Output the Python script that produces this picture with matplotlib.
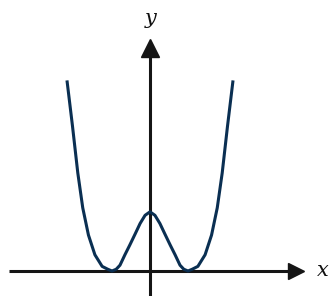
import matplotlib
matplotlib.use("Agg")
import matplotlib.pyplot as plt

# points (right half, then left half)
x_right = [0.0, 0.13, 0.26, 0.39, 0.53, 0.66, 0.79, 0.89, 1.0, 1.11, 1.26, 1.45, 1.62, 1.77, 1.90, 2.04, 2.18]
y_right = [1.02, 0.96, 0.82, 0.64, 0.45, 0.28, 0.10, 0.03, 0.0, 0.03, 0.08, 0.28, 0.62, 1.09, 1.69, 2.50, 3.26]
x_left = [-2.18, -2.04, -1.90, -1.77, -1.62, -1.45, -1.26, -1.11, -1.0, -0.89, -0.79, -0.66, -0.53, -0.39, -0.26, -0.13, 0.0]
y_left = [3.26, 2.50, 1.69, 1.09, 0.62, 0.28, 0.08, 0.03, 0.0, 0.03, 0.10, 0.28, 0.45, 0.64, 0.82, 0.96, 1.02]

x_axis_label = "x"
y_axis_label = "y"

fig = plt.figure(figsize=(3.36, 2.96), dpi=100)
ax = fig.add_axes([0, 0, 1, 1])
ax.set_xlim(-150 / 38, 186 / 38)
ax.set_ylim(-25 / 58, 271 / 58)
ax.axis("off")

axis_col = "#151515"
# axes with arrow heads
ax.plot([-3.70, 3.72], [0, 0], color=axis_col, lw=2.2, solid_capstyle="butt", zorder=1)
ax.plot([3.83], [0], marker=">", ms=11, color=axis_col, mec=axis_col, zorder=1)
ax.plot([0, 0], [-0.45, 3.72], color=axis_col, lw=2.2, solid_capstyle="butt", zorder=1)
ax.plot([0], [3.84], marker="^", ms=13, color=axis_col, mec=axis_col, zorder=1)

curve_col = "#0a2f52"
ax.plot(x_left + x_right[1:], y_left + y_right[1:], color=curve_col, lw=2.2,
        solid_joinstyle="round", zorder=2)

ax.text(0.03, 4.36, y_axis_label, fontsize=15, fontstyle="italic", family="DejaVu Serif",
        ha="center", va="center", color="#111111")
ax.text(4.55, 0.0, x_axis_label, fontsize=15, fontstyle="italic", family="DejaVu Serif",
        ha="center", va="center", color="#111111")

fig.savefig("out.png", dpi=100)
